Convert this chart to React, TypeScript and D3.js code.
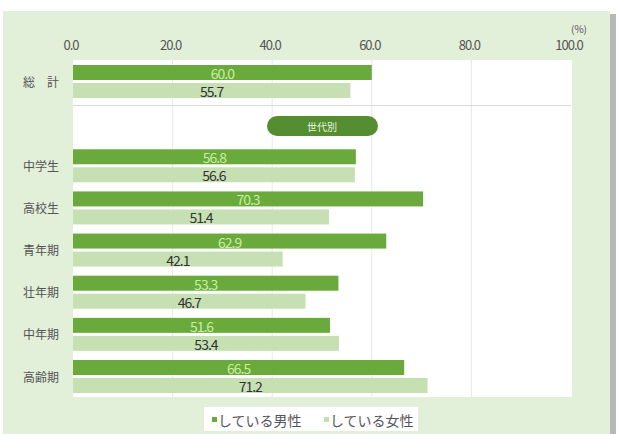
import React from "react";
import * as d3 from "d3";

const categories = ["総　計", "中学生", "高校生", "青年期", "壮年期", "中年期", "高齢期"];
const slots = [0, 2, 3, 4, 5, 6, 7];
const maleValues = [60.0, 56.8, 70.3, 62.9, 53.3, 51.6, 66.5];
const femaleValues = [55.7, 56.6, 51.4, 42.1, 46.7, 53.4, 71.2];
const tickValues = [0, 20, 40, 60, 80, 100];
const seriesNames = ["している男性", "している女性"];

const W = 618, H = 434;
const MALE = "#6aaa3c";
const FEMALE = "#c6e0b4";
const FONT = "'Noto Sans CJK JP', 'Noto Sans', sans-serif";

export default function App() {
  const x = d3.scaleLinear().domain([0, 100]).range([73, 571]);
  const y = d3.scaleLinear().domain([0, 7]).range([65, 360]);
  const barH = 15;
  const gap = 3;

  return (
    <svg width={W} height={H} style={{ position: "absolute", left: 0, top: 0 }} fontFamily={FONT}>
      <rect x={0} y={0} width={W} height={H} fill="#ffffff" />
      <rect x={610} y={14} width={6} height={H} fill="#b8b8b8" />
      <rect x={3} y={11} width={607} height={H} fill="#e2efd9" />
      <rect x={x(0)} y={60} width={x(100) - x(0) + 1} height={337} fill="#ffffff" />
      {tickValues.filter(t => t > 0 && t < 100).map(t => (
        <line key={t} x1={x(t)} x2={x(t)} y1={60} y2={397} stroke="#e8e8e8" strokeWidth={1} />
      ))}
      <line x1={x(0)} x2={x(100)} y1={105.5} y2={105.5} stroke="#d9d9d9" strokeWidth={1} />
      {tickValues.map(t => (
        <text key={t} x={x(t) - 2} y={50} textAnchor="middle" fontSize={13} fill="#555" letterSpacing={-1}>
          {t.toFixed(1)}
        </text>
      ))}
      <text x={587} y={33} textAnchor="end" fontSize={10} fill="#555">(%)</text>
      {categories.map((c, i) => {
        const top = y(slots[i]);
        const mv = maleValues[i];
        const fv = femaleValues[i];
        return (
          <g key={c}>
            <rect x={x(0)} y={top} width={x(mv) - x(0)} height={barH} fill={MALE} />
            <rect x={x(0)} y={top + barH + gap} width={x(fv) - x(0)} height={barH} fill={FEMALE} />
            <text x={(x(0) + x(mv)) / 2} y={top + barH / 2 + 0.5} dominantBaseline="central" textAnchor="middle" fontSize={14} fill="#c8eea0" letterSpacing={-1}>
              {mv.toFixed(1)}
            </text>
            <text x={(x(0) + x(fv)) / 2} y={top + barH + gap + barH / 2 + 0.5} dominantBaseline="central" textAnchor="middle" fontSize={14} fill="#333" letterSpacing={-1}>
              {fv.toFixed(1)}
            </text>
            <text x={41} y={top + barH + 1} dominantBaseline="central" textAnchor="middle" fontSize={12} fill="#555">
              {c}
            </text>
          </g>
        );
      })}
      <rect x={267} y={116} width={111} height={20} rx={10} fill="#548d32" />
      <text x={322} y={126.5} dominantBaseline="central" textAnchor="middle" fontSize={10} fill="#e8f5dc">世代別</text>
      <rect x={204} y={407} width={214} height={24} fill="#ffffff" />
      <rect x={212} y={417} width={5} height={5} fill={MALE} />
      <text x={218} y={420} dominantBaseline="central" fontSize={14} fill="#555">{seriesNames[0]}</text>
      <rect x={324} y={417} width={5} height={5} fill={FEMALE} />
      <text x={330} y={420} dominantBaseline="central" fontSize={14} fill="#555">{seriesNames[1]}</text>
    </svg>
  );
}
